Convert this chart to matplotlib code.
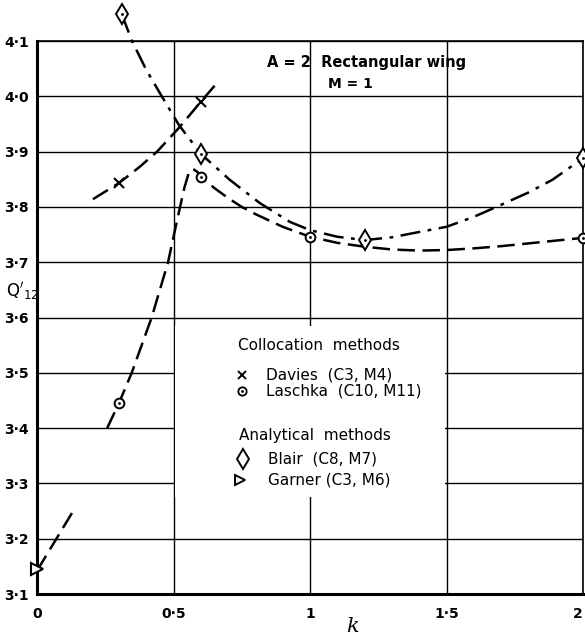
import numpy as np
import matplotlib.pyplot as plt
from matplotlib.patches import Rectangle

plt.rcParams['font.family'] = ['DejaVu Sans']
plt.rcParams['mathtext.fontset'] = 'dejavusans'

# --- data ---
# Davies (collocation), crosses and faired curve
davies_k = [0.3, 0.6]
davies_q = [3.843, 3.99]
davies_curve_k = [0.205, 0.3, 0.375, 0.44, 0.52, 0.6, 0.666]
davies_curve_q = [3.814, 3.843, 3.872, 3.90, 3.943, 3.99, 4.028]

# Laschka (collocation), circles and faired curve
laschka_k = [0.3, 0.6, 1.0, 2.0]
laschka_q = [3.445, 3.854, 3.746, 3.744]
laschka_curve_k = [0.257, 0.3, 0.347, 0.42, 0.48, 0.515, 0.54, 0.555, 0.571, 0.588, 0.6,
                   0.65, 0.7, 0.75, 0.8, 0.9, 1.0, 1.1, 1.2, 1.3, 1.4, 1.5, 1.6, 1.7,
                   1.8, 1.9, 2.0]
laschka_curve_q = [3.40, 3.445, 3.50, 3.60, 3.70, 3.78, 3.835, 3.86, 3.869, 3.863, 3.854,
                   3.834, 3.816, 3.80, 3.787, 3.764, 3.746, 3.735, 3.728, 3.723, 3.721,
                   3.722, 3.725, 3.729, 3.734, 3.739, 3.744]

# Blair (analytical), diamonds and faired curve
blair_k = [0.31, 0.6, 1.2, 2.0]
blair_q = [4.149, 3.896, 3.740, 3.888]
blair_curve_k = [0.31, 0.348, 0.40, 0.457, 0.52, 0.6, 0.706, 0.816, 0.926, 1.0, 1.1, 1.2,
                 1.3, 1.383, 1.5, 1.6, 1.683, 1.8, 1.888, 2.0]
blair_curve_q = [4.149, 4.10, 4.048, 4.0, 3.948, 3.896, 3.849, 3.807, 3.773, 3.758, 3.746,
                 3.740, 3.745, 3.753, 3.764, 3.782, 3.80, 3.826, 3.849, 3.888]

# Garner (analytical), triangle and short line
garner_k = [0.0]
garner_q = [3.145]
garner_line_k = [0.0, 0.13]
garner_line_q = [3.142, 3.248]

k_ticks = [0, 0.5, 1, 1.5, 2]
k_labels = ['0', '0·5', '1', '1·5', '2']
q_ticks = [3.1, 3.2, 3.3, 3.4, 3.5, 3.6, 3.7, 3.8, 3.9, 4.0, 4.1]
q_labels = ['3·1', '3·2', '3·3', '3·4', '3·5', '3·6', '3·7', '3·8', '3·9', '4·0', '4·1']

# --- figure ---
fig = plt.figure(figsize=(5.85, 6.39), dpi=100)
ax = fig.add_axes([37 / 585, 1 - 594 / 639, 546 / 585, 553 / 639])
ax.set_xlim(0, 2)
ax.set_ylim(3.1, 4.1)

ax.set_xticks(k_ticks)
ax.set_xticklabels(k_labels, fontsize=10, fontweight='bold')
ax.get_xticklabels()[-1].set_horizontalalignment('right')
ax.set_yticks(q_ticks)
ax.set_yticklabels(q_labels, fontsize=10, fontweight='bold')
ax.tick_params(length=0, pad=9)
ax.tick_params(axis='y', pad=6)

ax.set_axisbelow(True)
ax.grid(True, color='black', lw=1.0)
for s in ['left', 'bottom']:
    ax.spines[s].set_linewidth(2.2)
for s in ['top', 'right']:
    ax.spines[s].set_linewidth(1.2)

# white panel behind the key
ax.add_patch(Rectangle((0.505, 3.276), 0.99, 0.309, facecolor='white',
                       edgecolor='none', zorder=1))

dash = (0, (7, 3))
dashdot = (0, (8, 3, 1.5, 3))

ax.plot(davies_curve_k, davies_curve_q, color='black', lw=1.8, ls=dash, zorder=2)
ax.plot(laschka_curve_k, laschka_curve_q, color='black', lw=1.8, ls=dash, zorder=2,
        clip_on=False)
ax.plot(blair_curve_k, blair_curve_q, color='black', lw=1.8, ls=dashdot, zorder=2,
        clip_on=False)
ax.plot(garner_line_k, garner_line_q, color='black', lw=1.8, ls=dash, zorder=2)

ax.plot(davies_k, davies_q, 'x', color='black', ms=7, mew=1.5, zorder=3)
ax.plot(laschka_k, laschka_q, 'o', mfc='white', mec='black', ms=7, mew=1.4,
        zorder=3, clip_on=False)
ax.plot(laschka_k, laschka_q, '.', color='black', ms=2, zorder=4, clip_on=False)
ax.plot(blair_k, blair_q, 'd', mfc='white', mec='black', ms=10, mew=1.4,
        zorder=3, clip_on=False)
ax.plot(blair_k, blair_q, '.', color='black', ms=2, zorder=4, clip_on=False)
ax.plot(garner_k, garner_q, '>', mfc='white', mec='black', ms=8, mew=1.5,
        zorder=3, clip_on=False)

# title text inside the plot
ax.text(1.207, 4.062, 'A = 2  Rectangular wing', ha='center', va='center',
        fontsize=10.5, fontweight='bold')
ax.text(1.149, 4.023, 'M = 1', ha='center', va='center', fontsize=10, fontweight='bold')

# key
ax.text(0.735, 3.549, 'Collocation  methods', ha='left', va='center', fontsize=11)
ax.plot([0.75], [3.496], 'x', color='black', ms=6, mew=1.4, zorder=3)
ax.text(0.838, 3.496, 'Davies  (C3, M4)', ha='left', va='center', fontsize=11)
ax.plot([0.75], [3.467], 'o', mfc='white', mec='black', ms=6, mew=1.3, zorder=3)
ax.plot([0.75], [3.467], '.', color='black', ms=2, zorder=4)
ax.text(0.838, 3.467, 'Laschka  (C10, M11)', ha='left', va='center', fontsize=11)

ax.text(0.74, 3.387, 'Analytical  methods', ha='left', va='center', fontsize=11)
ax.plot([0.754], [3.345], 'd', mfc='white', mec='black', ms=10, mew=1.4, zorder=3)
ax.text(0.845, 3.345, 'Blair  (C8, M7)', ha='left', va='center', fontsize=11)
ax.plot([0.745], [3.307], '>', mfc='white', mec='black', ms=7, mew=1.4, zorder=3)
ax.text(0.845, 3.307, 'Garner (C3, M6)', ha='left', va='center', fontsize=11)

# axis labels
fig.text(22 / 585, 1 - 291 / 639, r"$\mathrm{Q}'_{12}$", ha='center', va='center',
         fontsize=12)
fig.text(352 / 585, 1 - 627 / 639, 'k', ha='center', va='center', fontsize=15,
         family='DejaVu Serif', style='italic')

fig.savefig('out.png', dpi=100)
